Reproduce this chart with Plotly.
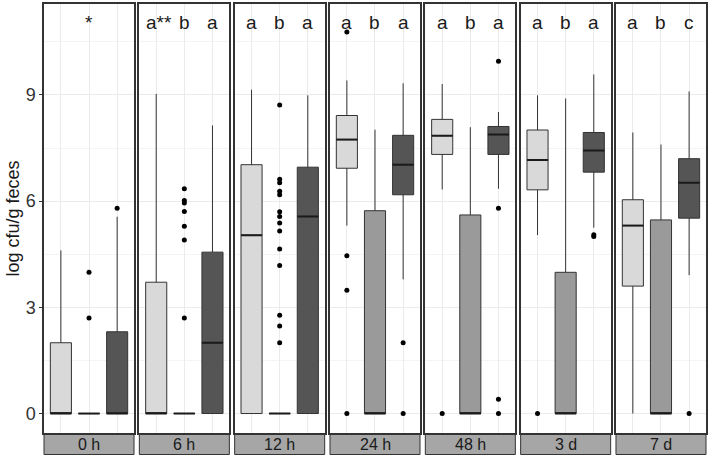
import plotly.graph_objects as go
from plotly.subplots import make_subplots

panels = ["0 h", "6 h", "12 h", "24 h", "48 h", "3 d", "7 d"]
letters = [["", "*", ""], ["a**", "b", "a"], ["a", "b", "a"], ["a", "b", "a"],
           ["a", "b", "a"], ["a", "b", "a"], ["a", "b", "c"]]

# light group
light_q1 = [0, 0, 0, 6.93, 7.32, 6.32, 3.60]
light_med = [0, 0, 5.04, 7.74, 7.85, 7.16, 5.31]
light_q3 = [2.0, 3.71, 7.03, 8.42, 8.31, 8.01, 6.04]
light_lo = [0, 0, 0, 5.31, 6.33, 5.04, 0]
light_hi = [4.61, 9.03, 9.15, 9.41, 9.31, 8.99, 7.94]
light_out = [[], [], [], [10.78, 4.46, 3.48, 0], [0], [0], []]

# medium group
med_q1 = [0, 0, 0, 0, 0, 0, 0]
med_med = [0, 0, 0, 0, 0, 0, 0]
med_q3 = [0, 0, 0, 5.73, 5.61, 3.99, 5.47]
med_lo = [0, 0, 0, 0, 0, 0, 0]
med_hi = [0, 0, 0, 8.02, 8.09, 8.90, 7.60]
med_out = [[3.99, 2.70],
           [6.35, 6.02, 5.95, 5.71, 5.29, 4.9, 2.7],
           [8.72, 6.62, 6.52, 6.28, 6.18, 5.70, 5.57, 5.38, 5.16, 4.65, 4.18, 2.78, 2.47, 2.0],
           [], [], [], []]

# dark group
dark_q1 = [0, 0, 0, 6.18, 7.32, 6.82, 5.52]
dark_med = [0, 2.0, 5.57, 7.03, 7.88, 7.43, 6.52]
dark_q3 = [2.31, 4.56, 6.96, 7.86, 8.11, 7.94, 7.20]
dark_lo = [0, 0, 0, 3.79, 6.35, 5.25, 3.91]
dark_hi = [5.56, 8.14, 8.99, 9.33, 8.52, 9.58, 9.10]
dark_out = [[5.80], [], [], [2.0, 0], [9.95, 5.80, 0.40, 0], [5.0, 5.05], [0]]

groups = [
    dict(q1=light_q1, med=light_med, q3=light_q3, lo=light_lo, hi=light_hi, out=light_out, color="#D9D9D9"),
    dict(q1=med_q1, med=med_med, q3=med_q3, lo=med_lo, hi=med_hi, out=med_out, color="#9A9A9A"),
    dict(q1=dark_q1, med=dark_med, q3=dark_q3, lo=dark_lo, hi=dark_hi, out=dark_out, color="#555555"),
]

W, H = 709, 458
ml, mr, mt, mb = 44, 3, 4, 25
pw = W - ml - mr
ph = H - mt - mb
BOXW = 0.75
FONT = "Liberation Sans, Arial, sans-serif"

fig = make_subplots(rows=1, cols=7, shared_yaxes=True, horizontal_spacing=5.3 / pw)

for p in range(7):
    col = p + 1
    sfx = str(col) if col > 1 else ""
    for gi, g in enumerate(groups):
        fig.add_trace(go.Box(
            x=[gi], q1=[g["q1"][p]], median=[g["med"][p]], q3=[g["q3"][p]],
            lowerfence=[g["lo"][p]], upperfence=[g["hi"][p]],
            width=BOXW, whiskerwidth=0, fillcolor=g["color"],
            line=dict(color="#333333", width=1), boxpoints=False,
            showlegend=False, hoverinfo="skip"), row=1, col=col)
        fig.add_trace(go.Scatter(
            x=[gi - BOXW / 2, gi + BOXW / 2], y=[g["med"][p], g["med"][p]],
            mode="lines", line=dict(color="#1a1a1a", width=2),
            showlegend=False, hoverinfo="skip"), row=1, col=col)
        if g["out"][p]:
            fig.add_trace(go.Scatter(
                x=[gi] * len(g["out"][p]), y=g["out"][p], mode="markers",
                marker=dict(color="black", size=5),
                showlegend=False, hoverinfo="skip"), row=1, col=col)
        if letters[p][gi]:
            fig.add_annotation(x=gi, y=11.05, xref="x" + sfx, yref="y" + sfx,
                               text=letters[p][gi], showarrow=False,
                               font=dict(family=FONT, size=19, color="#1a1a1a"),
                               xshift=3 if letters[p][gi] == "a**" else 0)
    # strip
    xr = "x" + sfx + " domain"
    fig.add_shape(type="rect", xref=xr, yref="paper", x0=0, x1=1,
                  y0=-1.5 / ph, y1=-21.5 / ph, fillcolor="#A6A6A6",
                  line=dict(color="#333333", width=1))
    fig.add_annotation(xref=xr, yref="paper", x=0.5, y=-11.5 / ph, text=panels[p],
                       showarrow=False, yanchor="middle",
                       font=dict(family=FONT, size=16, color="#1a1a1a"))

fig.update_layout(boxmode="overlay")

fig.update_xaxes(range=[-0.6, 2.6], tickvals=[0, 1, 2], showticklabels=False, ticks="",
                 showgrid=True, gridcolor="#EBEBEB", gridwidth=1, zeroline=False,
                 showline=True, mirror=True, linecolor="#333333", linewidth=1.5,
                 automargin=False)
fig.update_yaxes(range=[-0.55, 11.57], tickvals=[0, 3, 6, 9], showgrid=True,
                 gridcolor="#EBEBEB", gridwidth=1, zeroline=False,
                 minor=dict(tickvals=[1.5, 4.5, 7.5, 10.5], showgrid=True,
                            gridcolor="#F4F4F4", gridwidth=1),
                 showline=True, mirror=True, linecolor="#333333", linewidth=1.5,
                 ticks="", tickfont=dict(family=FONT, size=18, color="#333333"),
                 automargin=False)
fig.update_yaxes(ticks="outside", ticklen=3, tickcolor="#333333", row=1, col=1)

fig.add_annotation(xref="paper", yref="paper", x=(12 - ml) / pw, y=0.5,
                   xanchor="center", yanchor="middle",
                   text="log cfu/g feces", textangle=-90, showarrow=False,
                   font=dict(family=FONT, size=18, color="#1a1a1a"))

fig.update_layout(width=W, height=H, margin=dict(l=ml, r=mr, t=mt, b=mb, autoexpand=False),
                  plot_bgcolor="white", paper_bgcolor="white")

fig.write_html("out.html", config={"displayModeBar": False},
               post_script="document.body.style.margin='0';document.body.style.overflow='hidden';")
